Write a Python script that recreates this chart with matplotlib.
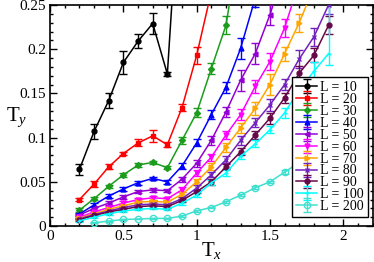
import matplotlib
matplotlib.use("Agg")
import matplotlib.pyplot as plt
from matplotlib.ticker import MultipleLocator

plt.rcParams['font.family'] = 'Liberation Serif'
plt.rcParams['mathtext.fontset'] = 'custom'
plt.rcParams['mathtext.rm'] = 'Liberation Serif'
plt.rcParams['mathtext.it'] = 'Liberation Serif:italic'

# temperatures on the x axis
tx = [0.2, 0.3, 0.4, 0.5, 0.6, 0.7, 0.8, 0.9, 1.0, 1.1,
      1.2, 1.3, 1.4, 1.5, 1.6, 1.7, 1.8, 1.9]

sizes = [10, 20, 30, 40, 50, 60, 70, 80, 90, 100, 200]

ty_10 = [0.064, 0.107, 0.142, 0.185, 0.209, 0.229, 0.172, 0.43]
er_10 = [0.006, 0.008, 0.008, 0.013, 0.008, 0.012, 0.002, 0.02]

ty_20 = [0.030, 0.0475, 0.067, 0.082, 0.094, 0.102, 0.092, 0.134, 0.193, 0.265]
er_20 = [0.002, 0.003, 0.003, 0.002, 0.004, 0.007, 0.003, 0.004, 0.010, 0.010]

ty_30 = [0.018, 0.031, 0.045, 0.058, 0.069, 0.072, 0.066, 0.097, 0.128, 0.178, 0.227, 0.33]
er_30 = [0.002, 0.002, 0.002, 0.002, 0.002, 0.002, 0.002, 0.004, 0.005, 0.006, 0.010, 0.02]

ty_40 = [0.0136, 0.024, 0.034, 0.042, 0.049, 0.054, 0.050, 0.068, 0.094, 0.126,
         0.157, 0.201, 0.258]
er_40 = [0.001, 0.002, 0.002, 0.002, 0.002, 0.002, 0.002, 0.003, 0.004, 0.005,
         0.006, 0.012, 0.010]

ty_50 = [0.0125, 0.020, 0.026, 0.033, 0.039, 0.041, 0.040, 0.053, 0.071, 0.097,
         0.129, 0.165, 0.195, 0.239, 0.29]
er_50 = [0.001, 0.002, 0.002, 0.002, 0.002, 0.002, 0.002, 0.003, 0.004, 0.005,
         0.006, 0.012, 0.012, 0.012, 0.015]

ty_60 = [0.010, 0.016, 0.021, 0.026, 0.030, 0.032, 0.031, 0.041, 0.060, 0.078,
         0.103, 0.126, 0.158, 0.186, 0.224, 0.276]
er_60 = [0.001, 0.001, 0.002, 0.002, 0.002, 0.002, 0.002, 0.003, 0.003, 0.004,
         0.005, 0.006, 0.007, 0.010, 0.010, 0.012]

ty_70 = [0.009, 0.014, 0.019, 0.023, 0.027, 0.028, 0.027, 0.036, 0.050, 0.067,
         0.089, 0.111, 0.133, 0.160, 0.195, 0.230, 0.27]
er_70 = [0.001, 0.001, 0.001, 0.002, 0.002, 0.002, 0.002, 0.003, 0.003, 0.004,
         0.005, 0.006, 0.007, 0.012, 0.008, 0.010, 0.010]

ty_80 = [0.008, 0.013, 0.017, 0.021, 0.024, 0.025, 0.024, 0.031, 0.043, 0.058,
         0.075, 0.097, 0.117, 0.137, 0.160, 0.189, 0.214, 0.25]
er_80 = [0.001, 0.001, 0.001, 0.001, 0.002, 0.002, 0.002, 0.002, 0.003, 0.003,
         0.004, 0.005, 0.005, 0.007, 0.006, 0.010, 0.010, 0.010]

ty_90 = [0.007, 0.012, 0.016, 0.019, 0.022, 0.023, 0.022, 0.029, 0.039, 0.050,
         0.067, 0.084, 0.103, 0.122, 0.145, 0.173, 0.193, 0.227]
er_90 = [0.001, 0.001, 0.001, 0.001, 0.001, 0.002, 0.002, 0.002, 0.002, 0.003,
         0.003, 0.004, 0.005, 0.006, 0.006, 0.008, 0.008, 0.010]

ty_100 = [0.006, 0.010, 0.014, 0.017, 0.019, 0.020, 0.019, 0.026, 0.035, 0.049,
          0.060, 0.079, 0.093, 0.109, 0.128, 0.154, 0.175, 0.195]
er_100_lo = [0.001, 0.001, 0.001, 0.001, 0.001, 0.001, 0.001, 0.002, 0.002, 0.003,
             0.003, 0.003, 0.004, 0.004, 0.006, 0.007, 0.010, 0.013]
er_100_hi = [0.001, 0.001, 0.001, 0.001, 0.001, 0.001, 0.001, 0.002, 0.002, 0.003,
             0.003, 0.003, 0.004, 0.004, 0.006, 0.007, 0.010, 0.080]

ty_200 = [0.0037, 0.0057, 0.0075, 0.008, 0.0087, 0.0087, 0.0113, 0.0173, 0.021,
          0.0275, 0.035, 0.0434, 0.050, 0.061, 0.072, 0.084, 0.097]
er_200 = [0.0005, 0.0005, 0.0005, 0.0005, 0.0005, 0.0005, 0.0008, 0.001, 0.001,
          0.001, 0.001, 0.0015, 0.0015, 0.002, 0.002, 0.002, 0.002]

colors = ['black', '#ff0000', '#1c9c1c', '#0000ff', '#9400d3', '#ff00ff',
          '#ffa500', '#7221bc', '#670748', '#00ffff', '#40e0d0']
markers = ['o', 's', 'D', '^', '<', 'v', '>', 'x', 'o', '+', 'o']

series = [
    (tx[:8], ty_10, er_10),
    (tx[:10], ty_20, er_20),
    (tx[:12], ty_30, er_30),
    (tx[:13], ty_40, er_40),
    (tx[:15], ty_50, er_50),
    (tx[:16], ty_60, er_60),
    (tx[:17], ty_70, er_70),
    (tx, ty_80, er_80),
    (tx, ty_90, er_90),
    (tx, ty_100, [er_100_lo, er_100_hi]),
    (tx[1:], ty_200, er_200),
]

fig = plt.figure(figsize=(3.74, 2.62), dpi=100)
ax = fig.add_axes([0.134, 0.137, 0.862, 0.844])

for i, (x, y, e) in enumerate(series):
    c = colors[i]
    ms = 3.5
    mfc = c
    if i == 10:
        mfc = 'none'
        ms = 4.5
    if markers[i] == 'D':
        ms = 3
    ax.errorbar(x, y, yerr=e, color=c, marker=markers[i], ms=ms, mfc=mfc,
                mec=c, mew=1.0, lw=1.1, elinewidth=1.0, capsize=3, capthick=1.0,
                label='L = %d' % sizes[i], zorder=3 + i * 0.01)

ax.set_xlim(0, 2.2)
ax.set_ylim(0, 0.25)
ax.xaxis.set_major_locator(MultipleLocator(0.5))
ax.xaxis.set_minor_locator(MultipleLocator(0.1))
ax.yaxis.set_major_locator(MultipleLocator(0.05))
ax.yaxis.set_minor_locator(MultipleLocator(0.01))
ax.xaxis.set_major_formatter(plt.FuncFormatter(lambda v, p: ('%g' % v)))
ax.yaxis.set_major_formatter(plt.FuncFormatter(lambda v, p: ('%g' % v)))
ax.tick_params(which='both', direction='in', top=True, right=True, width=1.0,
               labelsize=11, pad=3)
ax.tick_params(which='major', length=5)
ax.tick_params(which='minor', length=2.5)
for s in ax.spines.values():
    s.set_linewidth(1.2)

ax.set_xlabel(r'T$_x$', fontsize=15, labelpad=-2)
ax.set_ylabel(r'T$_y$', fontsize=15, rotation=0)
ax.yaxis.set_label_coords(-0.105, 0.44)

leg = ax.legend(loc='lower right', bbox_to_anchor=(0.985, 0.04), fontsize=10,
                handlelength=1.5, handletextpad=0.2, labelspacing=-0.08,
                borderpad=0.3, borderaxespad=0, fancybox=False, framealpha=1,
                edgecolor='black')
leg.get_frame().set_linewidth(1.0)
leg.set_zorder(10)

fig.savefig('out.png', dpi=100)
